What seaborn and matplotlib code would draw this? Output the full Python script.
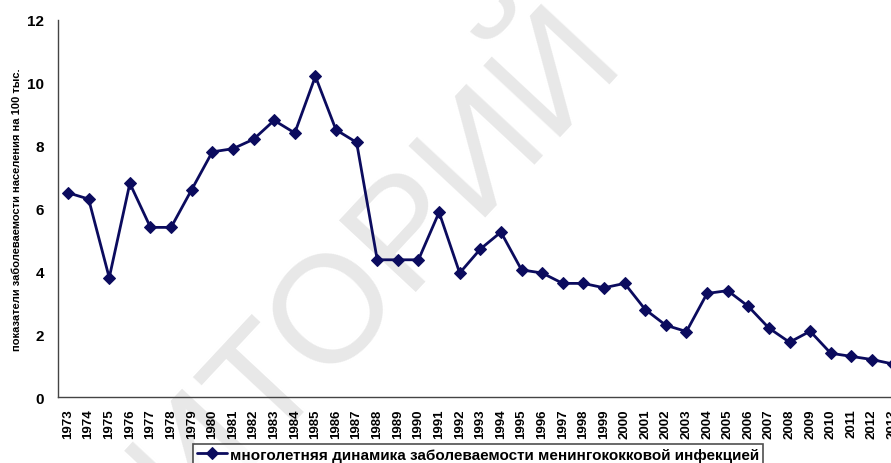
import numpy as np
import pandas as pd
import seaborn as sns
import matplotlib.pyplot as plt

# yearly incidence of meningococcal infection per 100k
years = list(range(1973, 2014))
rates = [6.5, 6.3, 3.8, 6.8, 5.4, 5.4, 6.6, 7.8, 7.9, 8.2,
         8.8, 8.4, 10.2, 8.5, 8.1, 4.37, 4.37, 4.37, 5.88, 3.95,
         4.71, 5.25, 4.05, 3.95, 3.62, 3.62, 3.48, 3.62, 2.79, 2.29,
         2.09, 3.3, 3.39, 2.89, 2.2, 1.75, 2.1, 1.4, 1.3, 1.2, 1.06]
series_name = 'многолетняя динамика заболеваемости менингококковой инфекцией'
y_label = 'показатели заболеваемости населения на 100 тыс.'
y_ticks = [0, 2, 4, 6, 8, 10, 12]

df = pd.DataFrame({'pos': np.arange(len(years)), 'rate': rates})

sns.set_style('white')
plt.rcParams['font.family'] = ['Liberation Sans', 'DejaVu Sans']
plt.rcParams['text.color'] = 'black'

navy = '#0b0b5e'
axis_col = '#444444'

fig = plt.figure(figsize=(8.91, 4.64), dpi=100)
ax = fig.add_axes([57.7 / 891, 65.7 / 464, 845.2 / 891, 377.6 / 464])
ax.set_facecolor('none')

# watermark behind the chart
fig.text(0.223, 0.022, 'РЕПОЗИТОРИЙ', rotation=47, color='#e8e8e8',
         fontsize=110, ha='center', va='center', zorder=-1,
         rotation_mode='anchor')

sns.lineplot(data=df, x='pos', y='rate', ax=ax, color=navy, linewidth=2.0,
             marker='D', markersize=6.5, markeredgecolor=navy,
             label=series_name)

ax.set_xlim(-0.5, len(years) - 0.5)
ax.set_ylim(0, 12)
ax.set_yticks(y_ticks)
ax.set_yticklabels([str(t) for t in y_ticks], fontsize=11, fontweight='bold',
                   color='black')

# category boundaries as tick marks, labels centred between them
ax.set_xticks(np.arange(len(years) + 1) - 0.5)
ax.set_xticklabels([])
ax.set_xticks(np.arange(len(years)), minor=True)
ax.set_xticklabels([str(y) for y in years], minor=True, rotation=90,
                   fontsize=9.5, fontweight='bold', color='black')
ax.tick_params(axis='x', which='major', direction='out', length=5,
               width=1, color=axis_col)
ax.tick_params(axis='x', which='minor', length=0, pad=8)
ax.tick_params(axis='y', direction='out', length=5, width=1,
               color=axis_col, pad=5)

for side in ['top', 'right']:
    ax.spines[side].set_visible(False)
for side in ['left', 'bottom']:
    ax.spines[side].set_color(axis_col)
    ax.spines[side].set_linewidth(1)

ax.set_xlabel('')
ax.set_ylabel(y_label, fontsize=8, fontweight='bold', color='black')
ax.yaxis.set_label_coords(-0.042, 0.5)

leg = ax.legend(loc='upper left', bbox_to_anchor=(193 / 891, 19 / 464),
                bbox_transform=fig.transFigure, frameon=True, fancybox=False,
                prop={'weight': 'bold', 'size': 11}, borderaxespad=0,
                handlelength=2.0, handletextpad=0.2, borderpad=0.25)
leg.get_frame().set_edgecolor('#222222')
leg.get_frame().set_linewidth(1.2)

fig.savefig('out.png', dpi=100)
